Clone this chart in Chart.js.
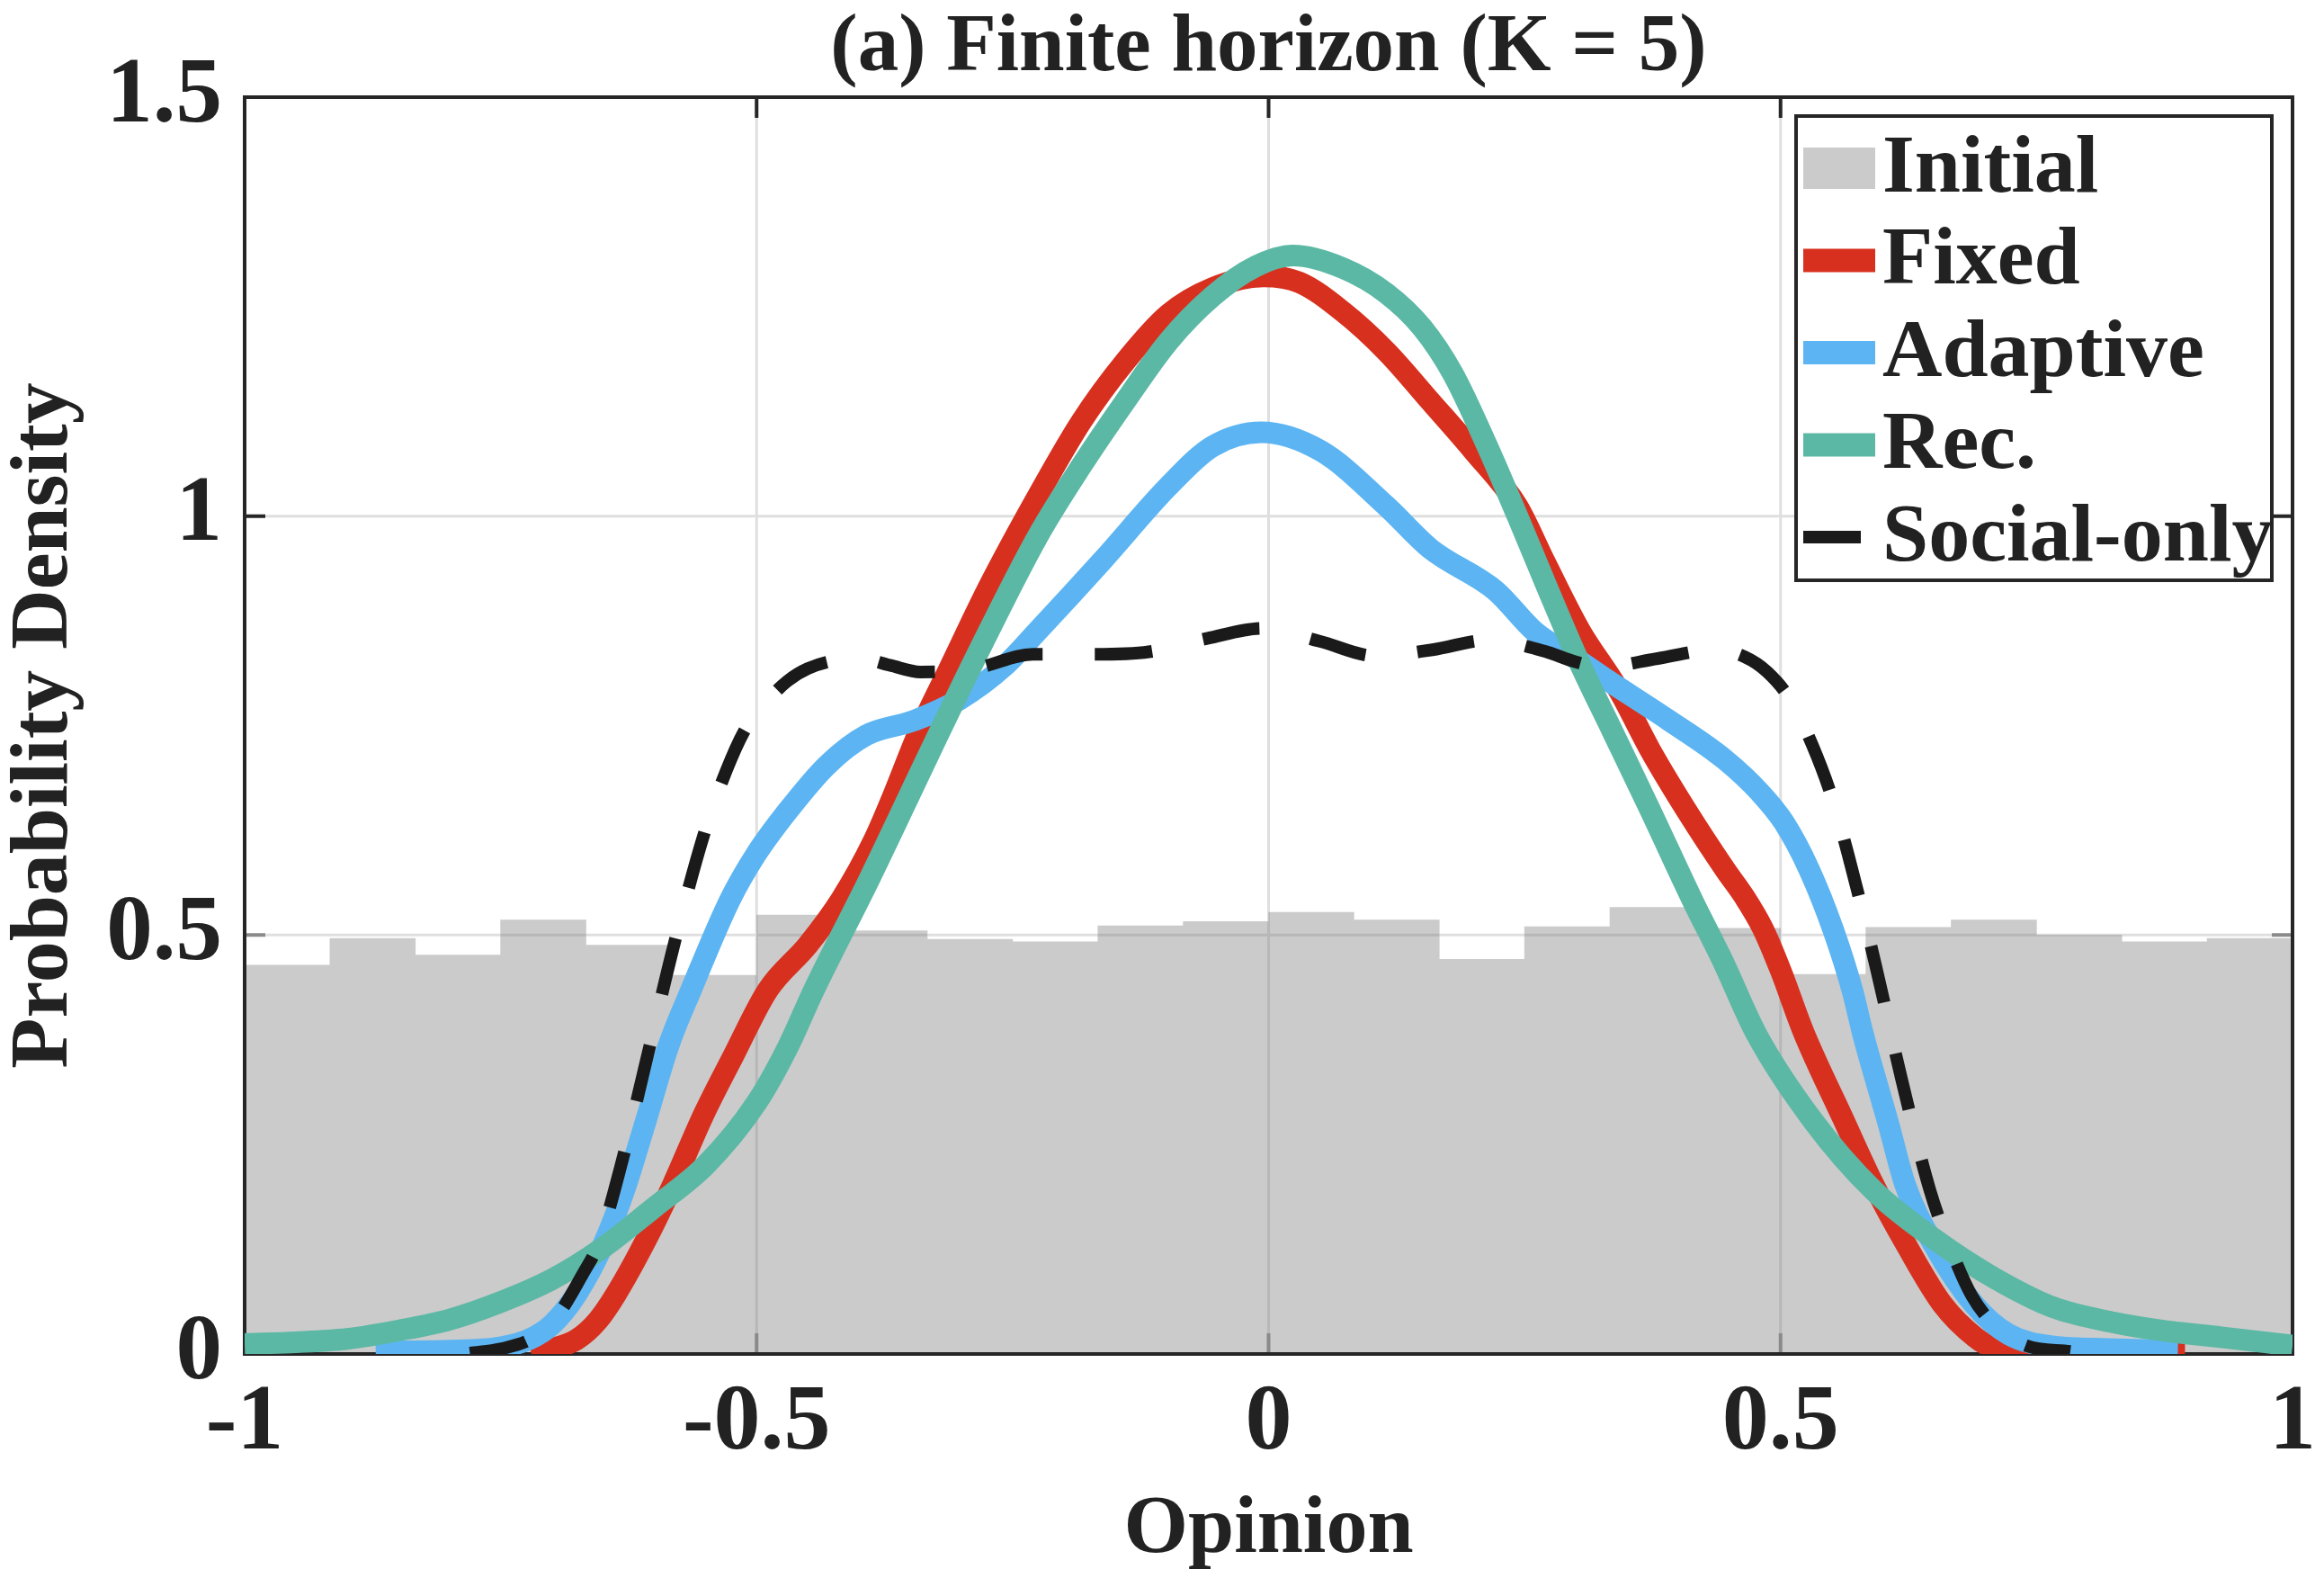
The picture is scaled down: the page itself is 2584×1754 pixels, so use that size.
<!DOCTYPE html>
<html>
<head>
<meta charset="utf-8">
<title>Finite horizon (K = 5)</title>
<style>
    html, body { margin: 0; padding: 0; background: #fff; }
</style>
</head>
<body>
<canvas id="grafico" width="2584" height="1754"></canvas>
<script src="https://cdn.jsdelivr.net/npm/chart.js@4.4.1/dist/chart.umd.min.js"></script>
<script>
// ── DATOS ─────────────────────────────────────────────

const xTickValues = [-1, -0.5, 0, 0.5, 1];
const xTickLabels = ['-1', '-0.5', '0', '0.5', '1'];
const yTickValues = [0, 0.5, 1, 1.5];
const yTickLabels = ['0', '0.5', '1', '1.5'];

// Histograma inicial (24 clases entre -1 y 1)
const binCenters = [-0.95833, -0.875, -0.79167, -0.70833, -0.625, -0.54167, -0.45833, -0.375,
                    -0.29167, -0.20833, -0.125, -0.04167, 0.04167, 0.125, 0.20833, 0.29167,
                    0.375, 0.45833, 0.54167, 0.625, 0.70833, 0.79167, 0.875, 0.95833];
const initialDensity = [0.464, 0.496, 0.476, 0.518, 0.488, 0.452, 0.524, 0.505,
                        0.495, 0.492, 0.511, 0.516, 0.527, 0.518, 0.471, 0.510,
                        0.533, 0.508, 0.453, 0.509, 0.518, 0.500, 0.492, 0.496];

const fixedX = [-0.72, -0.70, -0.676, -0.655, -0.6375, -0.608, -0.582, -0.552, -0.5224, -0.489, -0.45, -0.4177,
                -0.3855, -0.3664, -0.343, -0.3105, -0.2727, -0.2254, -0.1828, -0.14, -0.0977, -0.055, -0.005, 0.03,
                0.0725, 0.115, 0.158, 0.2003, 0.243, 0.27, 0.304, 0.3421, 0.3728, 0.408, 0.446, 0.465,
                0.4826, 0.5, 0.5225, 0.561, 0.591, 0.6226, 0.6583, 0.69, 0.7096, 0.73, 0.80, 0.895];
const fixedY = [0.0, 0.006, 0.017, 0.04, 0.071, 0.136, 0.2017, 0.285, 0.3565, 0.4345, 0.488, 0.542,
                0.613, 0.667, 0.7385, 0.8215, 0.917, 1.024, 1.113, 1.1845, 1.241, 1.272, 1.286, 1.279,
                1.244, 1.1966, 1.137, 1.0775, 1.012, 0.945, 0.8637, 0.792, 0.7207, 0.649, 0.578, 0.545,
                0.508, 0.458, 0.384, 0.281, 0.202, 0.1306, 0.059, 0.02, 0.006, 0.001, 0.0, 0.0];

const adaptiveX = [-0.872, -0.80, -0.75, -0.723, -0.70, -0.676, -0.65, -0.629, -0.608, -0.586, -0.564, -0.526,
                   -0.501, -0.469, -0.431, -0.393, -0.346, -0.302, -0.258, -0.2254, -0.1615, -0.0977, -0.055, -0.007,
                   0.0514, 0.115, 0.158, 0.2217, 0.26, 0.30, 0.33, 0.39, 0.445, 0.48, 0.503, 0.528,
                   0.5515, 0.57, 0.5807, 0.6056, 0.6217, 0.6496, 0.689, 0.7229, 0.7667, 0.82, 0.888];
const adaptiveY = [0.003, 0.004, 0.008, 0.017, 0.035, 0.071, 0.13, 0.196, 0.279, 0.368, 0.4345, 0.542,
                   0.5955, 0.649, 0.703, 0.7385, 0.756, 0.781, 0.821, 0.863, 0.948, 1.0357, 1.083, 1.10,
                   1.0775, 1.012, 0.961, 0.911, 0.862, 0.83, 0.805, 0.757, 0.71, 0.67, 0.635, 0.578,
                   0.506, 0.4345, 0.381, 0.2736, 0.202, 0.1306, 0.059, 0.0233, 0.0089, 0.006, 0.004];

const recX = [-1.0, -0.95, -0.9, -0.85, -0.8, -0.75, -0.7, -0.65, -0.6, -0.55, -0.5, -0.47,
              -0.444, -0.3898, -0.3313, -0.2874, -0.2254, -0.1828, -0.14, -0.0977, -0.055, -0.0127, 0.024, 0.0725,
              0.115, 0.15, 0.18, 0.213, 0.243, 0.272, 0.304, 0.3363, 0.3728, 0.4139, 0.4431, 0.4768,
              0.5325, 0.591, 0.6496, 0.708, 0.7667, 0.8253, 0.869, 0.93, 1.0];
const recY = [0.012, 0.014, 0.018, 0.028, 0.041, 0.062, 0.089, 0.127, 0.175, 0.225, 0.30, 0.365,
              0.4345, 0.567, 0.717, 0.828, 0.976, 1.06, 1.137, 1.2085, 1.262, 1.298, 1.311, 1.296,
              1.266, 1.225, 1.170, 1.085, 1.000, 0.915, 0.824, 0.742, 0.649, 0.5418, 0.4703, 0.381,
              0.277, 0.195, 0.1377, 0.0912, 0.0555, 0.0376, 0.0286, 0.02, 0.01];

const socialX = [-0.78, -0.75, -0.72, -0.70, -0.687, -0.67, -0.655, -0.633, -0.607, -0.581, -0.552, -0.53,
                 -0.51, -0.49, -0.47, -0.45, -0.42, -0.396, -0.37, -0.34, -0.31, -0.284, -0.23, -0.17,
                 -0.117, -0.06, -0.006, 0.049, 0.105, 0.16, 0.215, 0.27, 0.30, 0.325, 0.38, 0.436,
                 0.465, 0.487, 0.51, 0.531, 0.55, 0.566, 0.593, 0.618, 0.646, 0.668, 0.687, 0.71, 0.74, 0.783];
const socialY = [0.001, 0.006, 0.018, 0.038, 0.059, 0.095, 0.13, 0.2225, 0.354, 0.487, 0.618, 0.695,
                 0.748, 0.779, 0.803, 0.818, 0.828, 0.829, 0.822, 0.814, 0.815, 0.819, 0.835, 0.835,
                 0.838, 0.854, 0.866, 0.851, 0.833, 0.8405, 0.852, 0.8386, 0.826, 0.82, 0.83, 0.8405,
                 0.832, 0.814, 0.78, 0.727, 0.665, 0.596, 0.463, 0.329, 0.195, 0.12, 0.069, 0.033, 0.01, 0.003];

// ── ESTILO ─────────────────────────────────────────────

const FUENTE  = "'Liberation Serif', 'Times New Roman', serif";
const TEXTO   = '#222222';
const EJE     = '#262626';
const REJILLA = 'rgba(38,38,38,0.15)';
const REJILLA_BARRA = 'rgba(38,38,38,0.12)';

function puntos(xs, ys) { return xs.map((x, i) => ({ x, y: ys[i] })); }

function serie(label, xs, ys, color, ancho, orden, dash) {
    return {
        type: 'line', label, data: puntos(xs, ys),
        borderColor: color, backgroundColor: color, borderWidth: ancho,
        borderDash: dash || [], borderJoinStyle: 'round',
        pointRadius: 0, fill: false, cubicInterpolationMode: 'monotone', order: orden,
    };
}

// Rejilla, marco y marcas hacia dentro, justo después del histograma
// (así la rejilla se ve a través de las barras pero queda bajo las curvas)
const marco = {
    id: 'marco',
    beforeDatasetsDraw(chart) {
        const { ctx, chartArea: a, scales: { x, y } } = chart;
        ctx.save();
        ctx.strokeStyle = REJILLA;
        ctx.lineWidth = 3;
        ctx.beginPath();
        xTickValues.forEach(v => { const px = x.getPixelForValue(v); ctx.moveTo(px, a.top); ctx.lineTo(px, a.bottom); });
        yTickValues.forEach(v => { const py = y.getPixelForValue(v); ctx.moveTo(a.left, py); ctx.lineTo(a.right, py); });
        ctx.stroke();
        ctx.restore();
    },
    afterDatasetDraw(chart, args) {
        if (args.meta.type !== 'bar') return;
        const { ctx, chartArea: a, scales: { x, y } } = chart;
        const L = 23;
        ctx.save();
        // rejilla vista a través de las barras
        ctx.save();
        ctx.beginPath();
        args.meta.data.forEach(b => {
            const p = b.getProps(['x', 'y', 'base', 'width'], true);
            ctx.rect(p.x - p.width / 2, p.y, p.width, p.base - p.y);
        });
        ctx.clip();
        ctx.strokeStyle = REJILLA_BARRA;
        ctx.lineWidth = 3;
        ctx.beginPath();
        xTickValues.forEach(v => { const px = x.getPixelForValue(v); ctx.moveTo(px, a.top); ctx.lineTo(px, a.bottom); });
        yTickValues.forEach(v => { const py = y.getPixelForValue(v); ctx.moveTo(a.left, py); ctx.lineTo(a.right, py); });
        ctx.stroke();
        ctx.restore();

        ctx.lineWidth = 4;
        ctx.strokeStyle = '#8a8a8a';
        ctx.beginPath();
        xTickValues.forEach(v => {
            const px = x.getPixelForValue(v);
            ctx.moveTo(px, a.bottom); ctx.lineTo(px, a.bottom - L);
        });
        yTickValues.forEach(v => {
            const py = y.getPixelForValue(v);
            if (py > y.getPixelForValue(0.5) - 2) {
                ctx.moveTo(a.left, py);  ctx.lineTo(a.left + L, py);
                ctx.moveTo(a.right, py); ctx.lineTo(a.right - L, py);
            }
        });
        ctx.stroke();

        ctx.strokeStyle = EJE;
        ctx.beginPath();
        xTickValues.forEach(v => {
            const px = x.getPixelForValue(v);
            ctx.moveTo(px, a.top); ctx.lineTo(px, a.top + L);
        });
        yTickValues.forEach(v => {
            const py = y.getPixelForValue(v);
            if (py < y.getPixelForValue(0.5) - 2) {
                ctx.moveTo(a.left, py);  ctx.lineTo(a.left + L, py);
                ctx.moveTo(a.right, py); ctx.lineTo(a.right - L, py);
            }
        });
        ctx.stroke();
        ctx.strokeRect(a.left, a.top, a.right - a.left, a.bottom - a.top);
        ctx.restore();
    }
};

// Leyenda dentro del área, arriba a la derecha
const leyenda = {
    id: 'leyenda',
    afterDatasetsDraw(chart) {
        const { ctx, chartArea: a } = chart;
        const w = 529, h = 516;
        const x0 = a.right - 23 - w, y0 = a.top + 21;
        ctx.save();
        ctx.fillStyle = '#fff';
        ctx.fillRect(x0, y0, w, h);
        ctx.lineWidth = 4;
        ctx.strokeStyle = EJE;
        ctx.strokeRect(x0, y0, w, h);
        ctx.font = `bold 92px ${FUENTE}`;
        ctx.textBaseline = 'middle';
        chart.data.datasets.forEach((ds, i) => {
            const cy = y0 + 58 + i * 102.5;
            const sx = x0 + 8;
            if (ds.type === 'bar') {
                ctx.fillStyle = ds.backgroundColor;
                ctx.fillRect(sx, cy - 23, 80, 46);
            } else {
                const largo = ds.borderDash.length ? 64 : 80;
                ctx.strokeStyle = ds.borderColor;
                ctx.lineWidth = ds.borderDash.length ? ds.borderWidth : 26;
                ctx.setLineDash([]);
                ctx.beginPath();
                ctx.moveTo(sx, cy); ctx.lineTo(sx + largo, cy);
                ctx.stroke();
            }
            ctx.fillStyle = TEXTO;
            ctx.fillText(ds.label, x0 + 96, cy + 2);
        });
        ctx.restore();
    }
};

new Chart(document.getElementById('grafico'), {
    type: 'bar',
    data: {
        datasets: [
            {
                type: 'bar', label: 'Initial', data: puntos(binCenters, initialDensity),
                backgroundColor: '#CBCBCB', borderWidth: 0,
                barPercentage: 1, categoryPercentage: 1, order: 4,
            },
            serie('Fixed',       fixedX,    fixedY,    '#D8301F', 24, 3),
            serie('Adaptive',    adaptiveX, adaptiveY, '#5CB5F2', 24, 2),
            serie('Rec.',        recX,      recY,      '#5BB8A5', 24, 1),
            serie('Social-only', socialX,   socialY,   '#1A1A1A', 14, 0, [64, 58]),
        ]
    },
    options: {
        responsive: false,
        animation: false,
        devicePixelRatio: 1,
        layout: { padding: { left: 0, right: 35, top: 0, bottom: 0 } },
        plugins: {
            legend: { display: false },
            tooltip: { enabled: false },
            title: {
                display: true, text: '(a) Finite horizon (K = 5)', fullSize: false,
                color: TEXTO, padding: { top: 9, bottom: 8 },
                font: { family: FUENTE, size: 91, weight: 'bold', lineHeight: 1.0 },
            },
        },
        scales: {
            x: {
                type: 'linear', min: -1, max: 1, offset: false,
                afterBuildTicks: s => { s.ticks = xTickValues.map(value => ({ value })); },
                afterFit: s => { s.height = 249; s.paddingLeft = 0; s.paddingRight = 0; },
                grid: { display: false, drawTicks: false, offset: false },
                border: { display: false },
                ticks: {
                    callback: (v, i) => xTickLabels[i], autoSkip: false, maxRotation: 0,
                    color: TEXTO, padding: 16,
                    font: { family: FUENTE, size: 104, weight: 'bold', lineHeight: 1.2 },
                },
                title: {
                    display: true, text: 'Opinion', color: TEXTO, padding: { top: 0, bottom: 7 },
                    font: { family: FUENTE, size: 92, weight: 'bold', lineHeight: 1.0 },
                },
            },
            y: {
                type: 'linear', min: 0, max: 1.5,
                afterBuildTicks: s => { s.ticks = yTickValues.map(value => ({ value })); },
                afterFit: s => { s.width = 272; s.paddingTop = 0; s.paddingBottom = 0; },
                grid: { display: false, drawTicks: false },
                border: { display: false },
                ticks: {
                    callback: (v, i) => yTickLabels[i], color: TEXTO, padding: 25,
                    font: { family: FUENTE, size: 103, weight: 'bold', lineHeight: 1.2 },
                },
                title: {
                    display: true, text: 'Probability Density', color: TEXTO, padding: { top: 4, bottom: 0 },
                    font: { family: FUENTE, size: 92, weight: 'bold', lineHeight: 1.0 },
                },
            },
        },
    },
    plugins: [marco, leyenda],
});
</script>
</body>
</html>
